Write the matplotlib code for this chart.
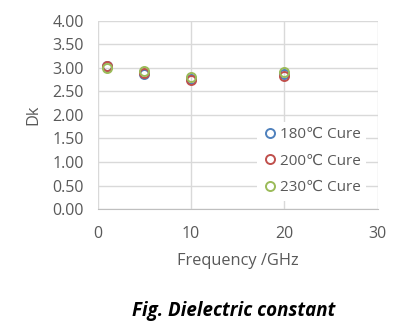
import matplotlib
matplotlib.use("Agg")
import matplotlib.pyplot as plt

# frequency points (GHz) and measured Dk for each cure temperature
freq = [1, 5, 10, 20]
dk_180 = [3.03, 2.87, 2.76, 2.86]
dk_200 = [3.04, 2.89, 2.74, 2.83]
dk_230 = [2.99, 2.93, 2.80, 2.92]
labels = ["180\u2103 Cure", "200\u2103 Cure", "230\u2103 Cure"]
colors = ["#4F81BD", "#C0504D", "#9BBB59"]

plt.rcParams["font.family"] = ["Open Sans", "DejaVu Sans"]
txt = "#595959"
grid = "#D9D9D9"

fig = plt.figure(figsize=(4.0, 3.34), dpi=100)
ax = fig.add_axes([0.244, 0.374, 0.70, 0.564])

for ys, lab, c in zip([dk_180, dk_200, dk_230], labels, colors):
    ax.plot(freq, ys, linestyle="none", marker="o", markersize=6.5,
            markerfacecolor="none", markeredgecolor=c, markeredgewidth=1.4,
            label=lab)

ax.set_xlim(0, 30)
ax.set_ylim(0, 4)
ax.set_xticks([0, 10, 20, 30])
ax.set_yticks([i * 0.5 for i in range(9)])
ax.set_yticklabels([f"{i * 0.5:.2f}" for i in range(9)])
ax.grid(True, color=grid, linewidth=1)
ax.set_axisbelow(True)
for s in ["top", "right", "left"]:
    ax.spines[s].set_visible(False)
ax.spines["bottom"].set_color("#BFBFBF")
ax.tick_params(length=0, labelsize=11.5, colors=txt)
ax.tick_params(axis="y", pad=10)
ax.tick_params(axis="x", pad=12)

ax.set_xlabel("Frequency /GHz", color=txt, fontsize=11.8, labelpad=8)
ax.set_ylabel("Dk", color=txt, fontsize=11.8, labelpad=8)

leg = ax.legend(loc="lower right", bbox_to_anchor=(0.985, 0.005), frameon=True,
                fontsize=11, labelcolor=txt, handletextpad=0.1,
                handlelength=1.0, borderpad=0.35, labelspacing=0.75)
leg.get_frame().set_facecolor("white")
leg.get_frame().set_edgecolor("none")
leg.get_frame().set_alpha(1)

fig.text(0.583, 0.068, "Fig. Dielectric constant", ha="center", va="center",
         fontsize=13.5, fontweight="bold", fontstyle="italic", color="black")

fig.savefig("out.png", dpi=100)
